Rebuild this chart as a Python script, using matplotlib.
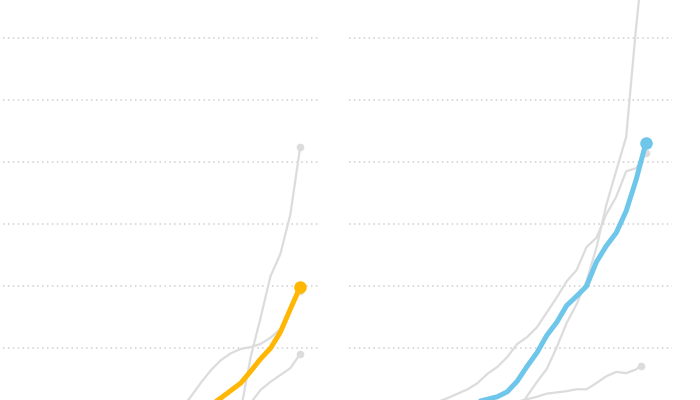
import matplotlib
matplotlib.use("Agg")
import matplotlib.pyplot as plt

# days since the start, values in gridline units
days_left_yellow = list(range(20, 31))
left_yellow = [0.0, 0.09, 0.20, 0.32, 0.44, 0.63, 0.83, 1.00, 1.26, 1.63, 1.99]

days_left_a = list(range(24, 31))
left_gray_a = [0.0, 0.86, 1.49, 2.16, 2.52, 3.15, 4.24]

days_left_b = list(range(24, 31))
left_gray_b = [0.0, 0.12, 0.33, 0.46, 0.57, 0.68, 0.91]

days_left_c = list(range(18, 31))
left_gray_c = [0.02, 0.23, 0.45, 0.65, 0.81, 0.92, 0.99, 1.02, 1.07, 1.17, 1.31, 1.62, 1.93]

days_right_blue = list(range(9, 31))
right_blue = [0.0, 0.04, 0.07, 0.10, 0.14, 0.18, 0.22, 0.30, 0.47, 0.71, 0.93, 1.21,
              1.42, 1.69, 1.84, 2.00, 2.39, 2.65, 2.86, 3.21, 3.71, 4.31]

days_right_d = list(range(7, 31))
right_gray_d = [0.0, 0.07, 0.14, 0.20, 0.27, 0.34, 0.44, 0.59, 0.70, 0.86, 1.07, 1.18,
                1.34, 1.58, 1.82, 2.08, 2.26, 2.63, 2.78, 3.16, 3.44, 3.85, 3.90, 4.15]

days_right_e = list(range(17, 31))
right_gray_e = [0.0, 0.23, 0.46, 0.67, 1.02, 1.41, 1.71, 2.08, 2.62, 3.31, 3.86, 4.40, 6.16, 7.70]

days_right_f = list(range(14, 30))
right_gray_f = [0.0, 0.04, 0.09, 0.14, 0.18, 0.22, 0.27, 0.29, 0.31, 0.34, 0.34, 0.44,
                0.55, 0.62, 0.60, 0.66]
right_f_last = (29.5, 0.72)

grid_levels = [1, 2, 3, 4, 5, 6]

GRAY = "#dcdcdc"
YELLOW = "#ffb703"
BLUE = "#6ec6ea"


def style_panel(ax, xmax):
    ax.set_xlim(0, xmax)
    ax.set_ylim(0.1675, 6.609)
    ax.set_yticks(grid_levels)
    ax.set_xticks([])
    ax.tick_params(length=0, labelleft=False)
    for side in ax.spines.values():
        side.set_visible(False)
    ax.grid(axis="y", color="#cfcfcf", linestyle=(0, (1, 2.2)), linewidth=1.1)
    ax.set_axisbelow(True)


def draw_line(ax, x, y, color, lw, ms, end=None):
    x = list(x)
    y = list(y)
    if end is not None:
        x.append(end[0])
        y.append(end[1])
    ax.plot(x, y, color=color, linewidth=lw, solid_joinstyle="round",
            solid_capstyle="round")
    ax.plot(x[-1], y[-1], "o", color=color, markersize=ms, markeredgewidth=0)


fig = plt.figure(figsize=(7, 4), dpi=100)
ax_left = fig.add_axes([3 / 700, 0, 317 / 700, 1])
ax_right = fig.add_axes([348.8 / 700, 0, (672 - 348.8) / 700, 1])

style_panel(ax_left, 32)
style_panel(ax_right, 32.63)

#left panel: gray context, highlighted yellow on top
draw_line(ax_left, days_left_c, left_gray_c, GRAY, 1.6, 5.5)
draw_line(ax_left, days_left_a, left_gray_a, GRAY, 1.6, 5.5)
draw_line(ax_left, days_left_b, left_gray_b, GRAY, 1.6, 5.5)
draw_line(ax_left, days_left_yellow, left_yellow, YELLOW, 3.6, 9)

#right panel
draw_line(ax_right, days_right_e, right_gray_e, GRAY, 1.6, 5.5)
draw_line(ax_right, days_right_d, right_gray_d, GRAY, 1.6, 5.5)
draw_line(ax_right, days_right_f, right_gray_f, GRAY, 1.6, 5.5, end=right_f_last)
draw_line(ax_right, days_right_blue, right_blue, BLUE, 3.6, 9)

fig.savefig("out.png", dpi=100, facecolor="white")
